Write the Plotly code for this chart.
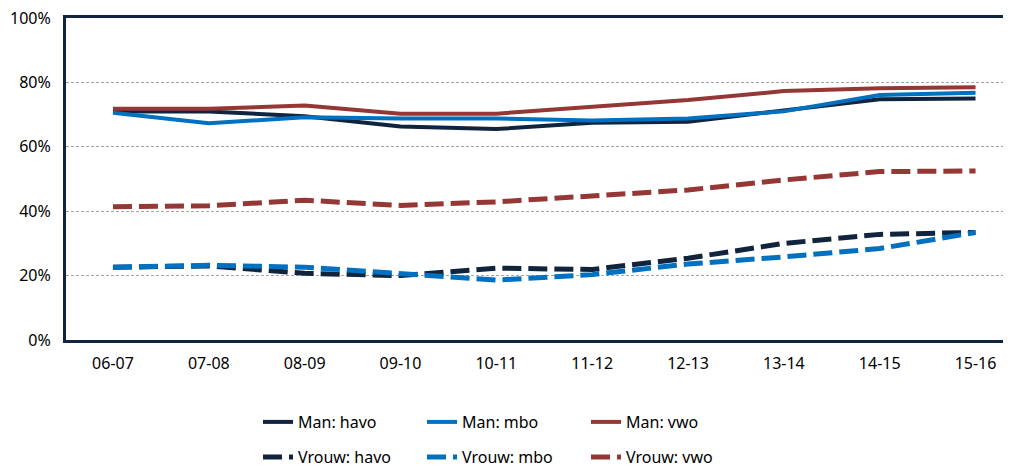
import plotly.graph_objects as go

categories = ["06-07", "07-08", "08-09", "09-10", "10-11", "11-12", "12-13", "13-14", "14-15", "15-16"]

man_havo = [71.0, 71.0, 69.5, 66.3, 65.5, 67.5, 67.8, 71.4, 74.8, 75.0]
man_mbo = [70.6, 67.3, 69.2, 68.8, 68.8, 68.2, 68.8, 71.0, 76.1, 76.8]
man_vwo = [71.8, 71.8, 72.8, 70.3, 70.3, 72.5, 74.5, 77.3, 78.2, 78.5]
vrouw_havo = [22.6, 23.0, 20.7, 20.0, 22.3, 21.9, 25.4, 30.0, 32.8, 33.4]
vrouw_mbo = [22.6, 23.2, 22.6, 20.7, 18.6, 20.3, 23.6, 25.8, 28.4, 33.4]
vrouw_vwo = [41.4, 41.7, 43.4, 41.8, 42.9, 44.7, 46.6, 49.7, 52.3, 52.5]

navy = "#10243E"
blue = "#0070C0"
red = "#953735"

fig = go.Figure()

series = [
    ("Man: havo", man_havo, navy, "solid", "legend"),
    ("Man: mbo", man_mbo, blue, "solid", "legend"),
    ("Man: vwo", man_vwo, red, "solid", "legend"),
    ("Vrouw: havo", vrouw_havo, navy, "19px,7px", "legend2"),
    ("Vrouw: mbo", vrouw_mbo, blue, "19px,7px", "legend2"),
    ("Vrouw: vwo", vrouw_vwo, red, "19px,7px", "legend2"),
]
for name, vals, col, dash, lg in series:
    fig.add_trace(go.Scatter(
        x=categories, y=[v / 100 for v in vals], name=name, mode="lines",
        line=dict(color=col, width=5 if dash != "solid" else 4, dash=dash),
        legend=lg,
    ))

font = dict(family="Noto Sans", size=16, color="#000000")
legend_common = dict(
    orientation="h", xanchor="left", yanchor="middle",
    xref="container", yref="container",
    entrywidth=119, entrywidthmode="pixels",
    font=dict(family="Noto Sans", size=16, color="#000000"),
    bgcolor="rgba(0,0,0,0)", itemclick=False,
    tracegroupgap=0,
)

# page body has an 8px margin, so the figure is offset by 8px
W, H = 1003, 460
fig.update_layout(
    width=W, height=H,
    margin=dict(l=58, r=0, t=10, b=128, autoexpand=False),
    paper_bgcolor="white", plot_bgcolor="white",
    font=font,
    xaxis=dict(
        type="category", automargin=False,
        range=[-0.49, 9.37], showgrid=False, showline=True, mirror=True,
        linecolor=navy, linewidth=3, ticks="", tickfont=font, zeroline=False,
        ticklabelstandoff=7, ticklabeloverflow="allow",
    ),
    yaxis=dict(
        range=[0, 1], tickvals=[0, 0.2, 0.4, 0.6, 0.8, 1.0], tickformat=".0%",
        automargin=False, ticklabeloverflow="allow",
        showgrid=True, gridcolor="#A6A6A6", griddash="3px,2px", gridwidth=1,
        showline=True, linecolor=navy, linewidth=3, ticks="", zeroline=False,
        tickfont=font, ticklabelstandoff=9,
    ),
    legend=dict(x=250 / W, y=1 - 414 / H, **legend_common),
    legend2=dict(x=250 / W, y=1 - 449 / H, **legend_common),
    showlegend=True,
)

fig.write_html("out.html")
